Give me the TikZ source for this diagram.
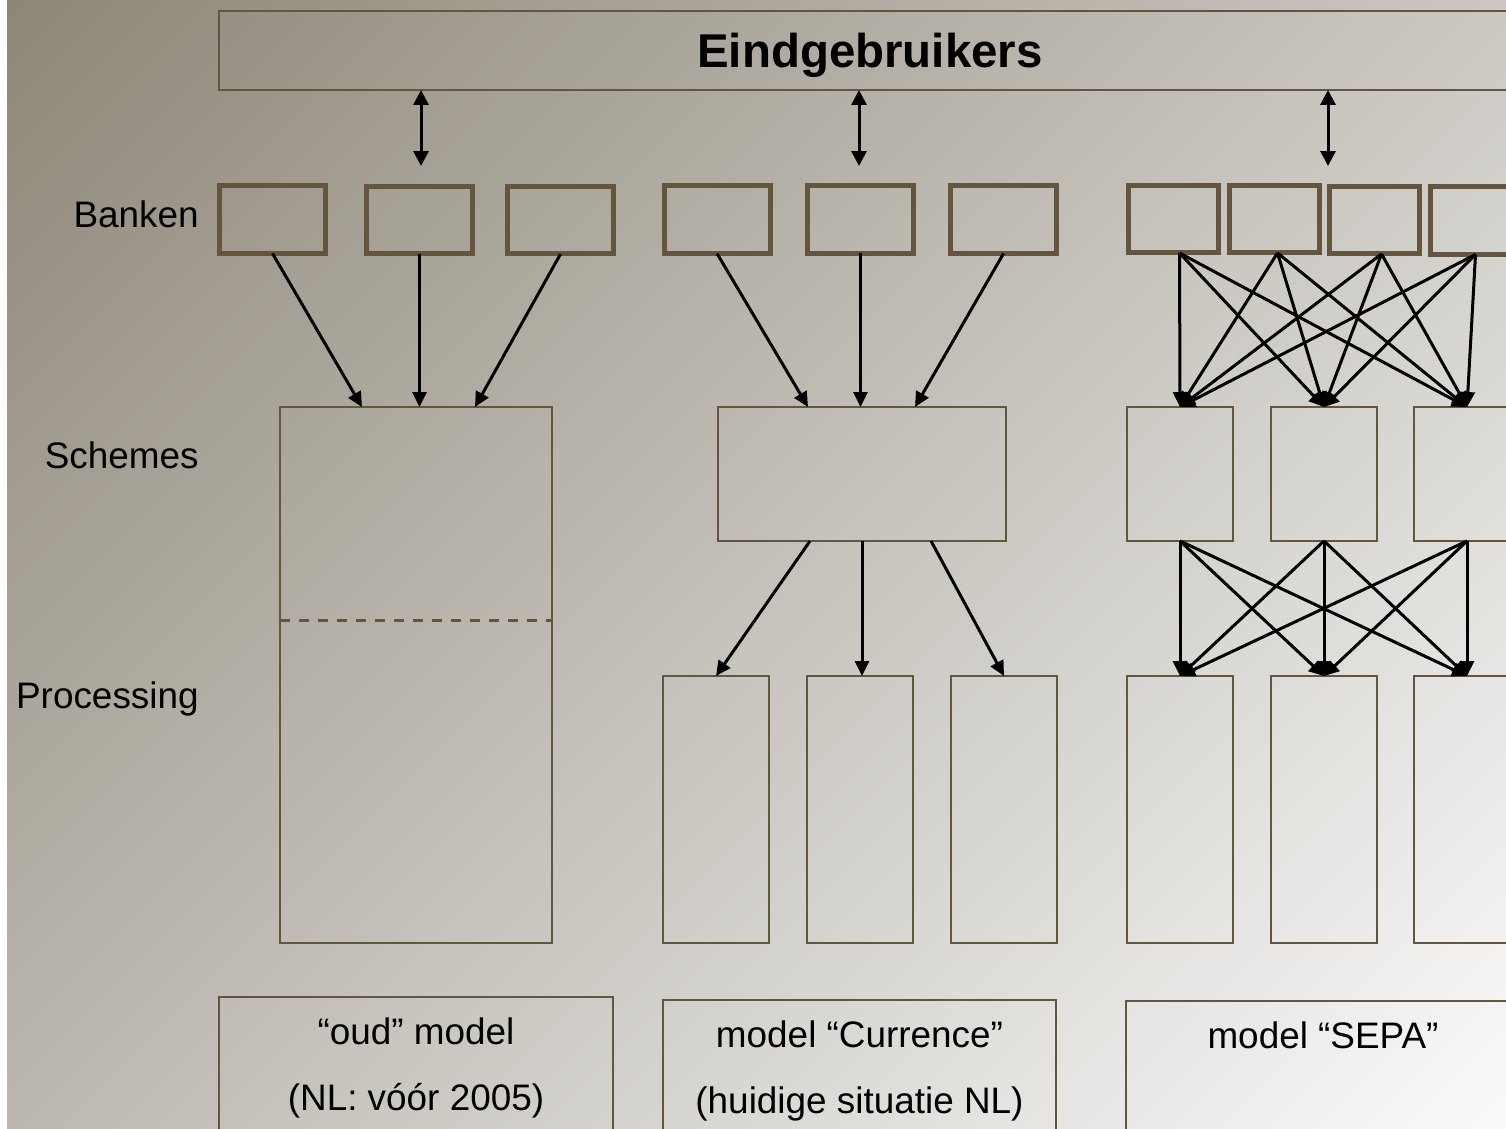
\documentclass[tikz,border=0pt]{standalone}
\usepackage{fontspec}
\setmainfont{Liberation Sans}
\usepackage{tikz}
\usetikzlibrary{arrows.meta,calc}

\definecolor{boxbrown}{RGB}{99,85,62}
\definecolor{bgdark}{RGB}{141,134,120}
\definecolor{bgmid}{RGB}{204,200,194}
\definecolor{bglight}{RGB}{250,250,250}

\begin{document}
\begin{tikzpicture}[x=0.02cm, y=-0.02cm,
    bank/.style={draw=boxbrown, line width=0.1cm, inner sep=0pt, outer sep=0pt, minimum height=1.36cm},
    thinbox/.style={draw=boxbrown, line width=0.045cm, inner sep=0pt, outer sep=0pt},
    flow/.style={line width=0.06cm, -{Triangle[length=0.3cm, width=0.28cm]}},
    twoway/.style={line width=0.06cm, {Triangle[length=0.3cm, width=0.3cm]}-{Triangle[length=0.3cm, width=0.3cm]}},
    rowlabel/.style={anchor=base east, inner sep=0pt, font=\fontsize{21}{25}\selectfont},
    modellabel/.style={thinbox, anchor=north, font=\fontsize{21}{38}\selectfont}]
    \useasboundingbox (0,0) rectangle (1506,1128);
    \clip (0,0) rectangle (1506,1128);
    \fill[white] (0,0) rectangle (1506,1128);
    \begin{scope}
      \clip (7,0) rectangle (1506,1128);
      \shade[transform canvas={rotate around={45:(753,564)}}, top color=bgdark, middle color=bgmid, bottom color=bglight] (-178,-367) rectangle (1684,1495);
    \end{scope}

    \node[thinbox, minimum width=26.04cm, minimum height=1.58cm, text depth=0pt, font=\bfseries\fontsize{27}{32}\selectfont] (eind) at (870,50.5) {Eindgebruikers};

    \node[bank, minimum width=2.12cm] (b1) at (272.5,219.5) {};
    \node[bank, minimum width=2.12cm] (b2) at (419.5,220) {};
    \node[bank, minimum width=2.12cm] (b3) at (560.5,220) {};
    \node[bank, minimum width=2.12cm] (b4) at (717,219.5) {};
    \node[bank, minimum width=2.12cm] (b5) at (860.5,219.5) {};
    \node[bank, minimum width=2.12cm] (b6) at (1003.5,219.5) {};
    \node[bank, minimum width=1.8cm] (b7) at (1173.5,219) {};
    \node[bank, minimum width=1.8cm] (b8) at (1274.5,219) {};
    \node[bank, minimum width=1.8cm] (b9) at (1374.5,220) {};
    \node[bank, minimum width=1.8cm] (b10) at (1475.5,220.5) {};

    \node[thinbox, minimum width=5.44cm, minimum height=10.72cm] (oud) at (416,675) {};
    \node[thinbox, minimum width=5.76cm, minimum height=2.68cm] (cur) at (862,474) {};
    \node[thinbox, minimum width=2.12cm, minimum height=2.68cm] (s1) at (1180,474) {};
    \node[thinbox, minimum width=2.12cm, minimum height=2.68cm] (s2) at (1324,474) {};
    \node[thinbox, minimum width=2.12cm, minimum height=2.68cm] (s3) at (1467,474) {};

    \node[thinbox, minimum width=2.12cm, minimum height=5.34cm] (p1) at (716,809.5) {};
    \node[thinbox, minimum width=2.12cm, minimum height=5.34cm] (p2) at (860,809.5) {};
    \node[thinbox, minimum width=2.12cm, minimum height=5.34cm] (p3) at (1004,809.5) {};
    \node[thinbox, minimum width=2.12cm, minimum height=5.34cm] (q1) at (1180,809.5) {};
    \node[thinbox, minimum width=2.12cm, minimum height=5.34cm] (q2) at (1324,809.5) {};
    \node[thinbox, minimum width=2.12cm, minimum height=5.34cm] (q3) at (1467,809.5) {};

    \draw[boxbrown, line width=0.06cm, dash pattern=on 0.2cm off 0.18cm] ($(oud.north west)+(0,213)$) -- ($(oud.north east)+(0,213)$);

    \node[rowlabel] (banken) at (199,228) {Banken};
    \node[rowlabel] (schemes) at (199,468) {Schemes};
    \node[rowlabel] (processing) at (199,708) {Processing};

    \coordinate (a1) at (421,166);
    \coordinate (a2) at (859,166);
    \coordinate (a3) at (1328,166);
    \draw[twoway] (eind.south -| a1) -- (a1);
    \draw[twoway] (eind.south -| a2) -- (a2);
    \draw[twoway] (eind.south -| a3) -- (a3);

    \draw[flow] (b1.south) -- ($(oud.north)+(-54,0)$);
    \draw[flow] (b2.south) -- (b2.south |- oud.north);
    \draw[flow] (b3.south) -- ($(oud.north)+(59,0)$);

    \draw[flow] (b4.south) -- ($(cur.north)+(-54,0)$);
    \draw[flow] (b5.south) -- (b5.south |- cur.north);
    \draw[flow] (b6.south) -- ($(cur.north)+(53,0)$);
    \draw[flow] ($(cur.south)+(-52,0)$) -- (p1.north);
    \draw[flow] (cur.south) -- (cur.south |- p2.north);
    \draw[flow] ($(cur.south)+(69,0)$) -- (p3.north);

    \foreach \b/\dx in {b7/6,b8/3,b9/7,b10/0}
        \foreach \s in {s1,s2,s3}
            \draw[flow] ($(\b.south)+(\dx,0)$) -- (\s.north);
    \foreach \s in {s1,s2,s3}
        \foreach \q in {q1,q2,q3}
            \draw[flow] (\s.south) -- (\q.north);

    \node[modellabel] (oudmodel) at (416,997) {
      \begin{minipage}[t][3cm][t]{7.88cm}
        \centering\rule{0pt}{0.94cm}“oud” model\\
        (NL: vóór 2005)
      \end{minipage}
    };
    \node[modellabel] (curmodel) at (859.5,1000) {
      \begin{minipage}[t][3cm][t]{7.86cm}
        \centering\rule{0pt}{0.94cm}model “Currence”\\
        (huidige situatie NL)
      \end{minipage}
    };
    \node[modellabel] (sepamodel) at (1323,1001) {
      \begin{minipage}[t][3cm][t]{7.88cm}
        \centering\rule{0pt}{0.94cm}model “SEPA”
      \end{minipage}
    };
  \end{tikzpicture}
\end{document}
